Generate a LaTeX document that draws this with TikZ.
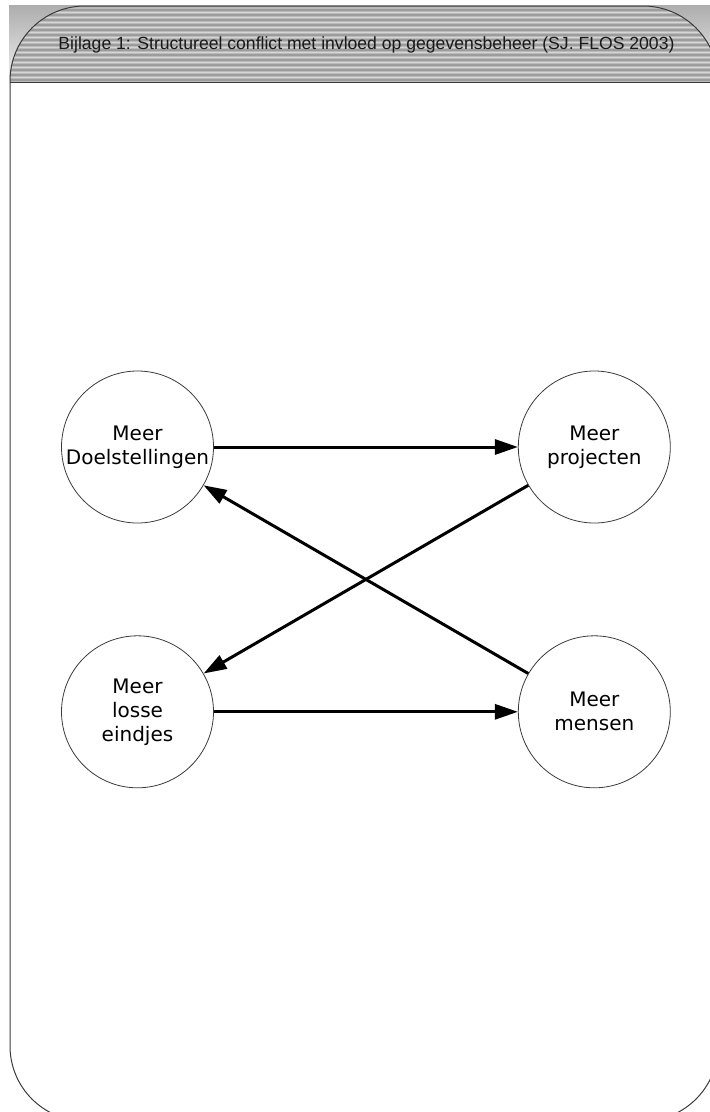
\documentclass[tikz,border=0pt]{standalone}
\usepackage{fontspec}
\setmainfont{DejaVu Sans}
\newfontfamily\headfont{Liberation Sans}
\usetikzlibrary{arrows.meta,positioning}
\definecolor{stripedark}{HTML}{9C9C9C}
\definecolor{stripelight}{HTML}{D6D6D6}
\definecolor{framegray}{HTML}{3A3A3A}

\begin{document}
\begin{tikzpicture}[x=1bp,y=-1bp,>={Triangle[length=23bp,width=15bp]},
		oorzaak/.style={circle,draw=framegray,line width=0.8bp,minimum size=152bp,inner sep=0pt,
				align=center,font=\fontsize{20bp}{24bp}\selectfont},
		pijl/.style={->,line width=3bp},
		node distance=112bp and 304bp]

			\useasboundingbox (0,0) rectangle (710,1112);

			% kopbalk
			\fill[top color=black!32,bottom color=black!6] (9,5) rectangle (718,82);
			\begin{scope}
				\clip[rounded corners=75bp] (10,6) rectangle (718,1121);
				\fill[black!27] (10,6) rectangle (718,82);
				\foreach \y in {9,14,...,79} {
						\fill[stripedark] (10,\y) rectangle (718,\y+2);
						\fill[stripelight] (10,\y+2.5) rectangle (718,\y+4);
					}
			\end{scope}
			\draw[framegray,line width=1bp,rounded corners=75bp] (10,6) rectangle (718,1121);
			\draw[framegray,line width=1bp] (10,82) -- (718,82);
			\node[font=\headfont\fontsize{17.6bp}{21bp}\selectfont,text=black!90] (kop) at (366.5,45)
			{Bijlage 1: Structureel conflict met invloed op gegevensbeheer (SJ. FLOS 2003)};

			\node[oorzaak] (doel) at (137.5,447) {Meer\\Doelstellingen};
			\node[oorzaak,right=of doel] (proj) {Meer\\projecten};
			\node[oorzaak,below=of doel] (losse) {Meer\\losse\\eindjes};
			\node[oorzaak,below=of proj] (mensen) {Meer\\mensen};

			\draw[pijl] (doel) -- (proj);
			\draw[pijl] (losse) -- (mensen);
			\draw[pijl] (proj) -- (losse);
			\draw[pijl] (mensen) -- (doel);
		\end{tikzpicture}
\end{document}
